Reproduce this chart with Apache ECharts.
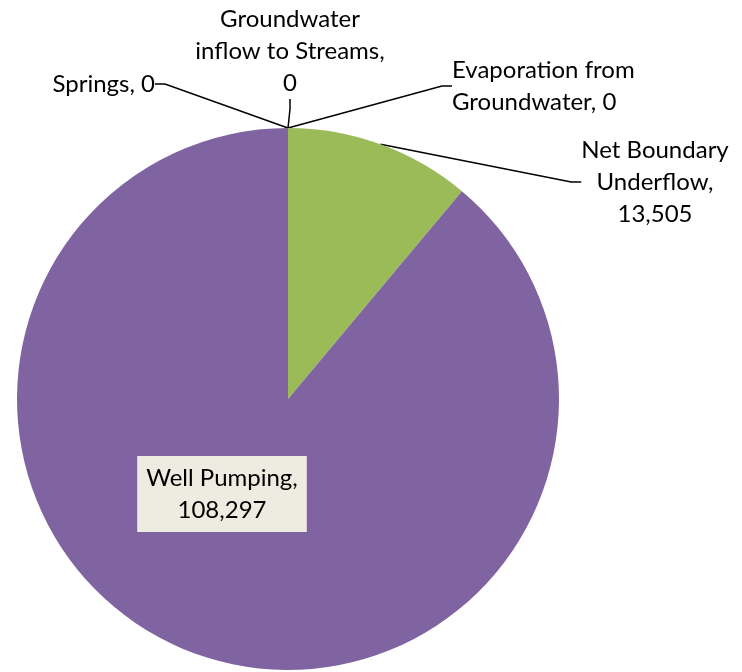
<!DOCTYPE html>
<html>
<head>
<meta charset="utf-8">
<script src="https://cdn.jsdelivr.net/npm/echarts@6/dist/echarts.min.js"></script>
<style>
  html, body { margin: 0; padding: 0; background: #fff; }
  #main { width: 742px; height: 672px; }
</style>
</head>
<body>
<div id="main"></div>
<script>
// slice names and values (clockwise from 12 o'clock)
var names = [
  'Net Boundary Underflow',
  'Well Pumping',
  'Springs',
  'Groundwater inflow to Streams',
  'Evaporation from Groundwater'
];
var values = [13505, 108297, 0, 0, 0];
var colors = ['#9BBB59', '#8064A2', '#4BACC6', '#F79646', '#C0504D'];

// label text as wrapped in the original (value appended below)
var labelLines = [
  ['Net Boundary', 'Underflow,'],
  ['Well Pumping,'],
  ['Springs,'],
  ['Groundwater', 'inflow to Streams,'],
  ['Evaporation from', 'Groundwater,']
];
// labels whose value stays on the last text line
var inlineValue = [false, false, true, false, true];

// where each label sits
var labelPos = [
  { x: 655, y: 182, align: 'center' },
  { x: 222, y: 494, align: 'center' },
  { x: 155, y: 84, align: 'right' },
  { x: 290, y: 51, align: 'center' },
  { x: 452, y: 86, align: 'left' }
];

function fmt(v) {
  return v.toLocaleString('en-US');
}

var data = names.map(function (n, i) {
  var item = { name: n, value: values[i], itemStyle: { color: colors[i] } };
  if (i === 1) {
    item.label = {
      backgroundColor: '#EEECE1',
      padding: [6, 9, 6, 9]
    };
    item.labelLine = { show: false };
  }
  return item;
});

var chart = echarts.init(document.getElementById('main'));

var option = {
  animation: false,
  series: [{
    type: 'pie',
    center: [288, 399],
    radius: 271,
    startAngle: 90,
    clockwise: true,
    avoidLabelOverlap: false,
    data: data,
    itemStyle: { borderWidth: 0 },
    label: {
      show: true,
      position: 'outside',
      fontFamily: 'Lato',
      fontSize: 24,
      lineHeight: 32,
      color: '#000',
      formatter: function (p) {
        var lines = labelLines[p.dataIndex].slice();
        if (inlineValue[p.dataIndex]) {
          lines[lines.length - 1] += ' ' + fmt(p.value);
        } else {
          lines.push(fmt(p.value));
        }
        return lines.join('\n');
      }
    },
    labelLine: {
      show: true,
      length: 10,
      length2: 10,
      lineStyle: { color: '#000', width: 1.5 }
    },
    labelLayout: function (params) {
      var pos = labelPos[params.dataIndex];
      return {
        x: pos.x,
        y: pos.y,
        align: pos.align,
        verticalAlign: 'middle'
      };
    }
  }]
};

chart.setOption(option);
</script>
</body>
</html>
